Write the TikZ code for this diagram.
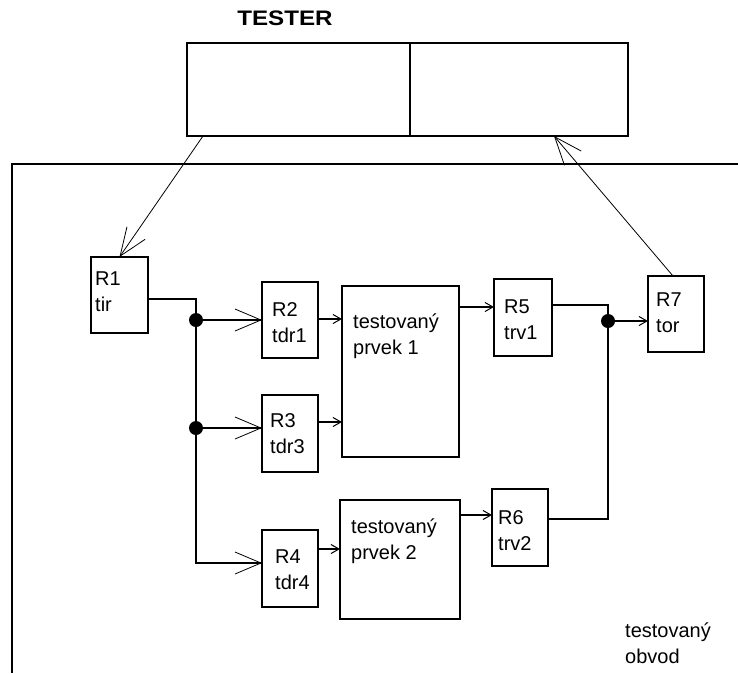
\documentclass[tikz,border=0pt]{standalone}
\usepackage{fontspec}
\setmainfont{Liberation Sans}
\usetikzlibrary{arrows.meta,calc}
\begin{document}
\begin{tikzpicture}[x=1pt,y=-1pt,
  box/.style={draw, line width=1.6pt, inner sep=0pt, outer sep=0pt, anchor=north west},
  lbl/.style={anchor=north west, inner sep=0pt, align=left, font=\fontsize{20}{26}\selectfont},
  wire/.style={line width=1.6pt},
  bigarr/.style={line width=1.6pt, -{Straight Barb[length=26pt,width=22pt,line width=0.8pt]}},
  thinarr/.style={line width=0.8pt, -{Straight Barb[length=28pt,width=22pt,line width=0.8pt]}},
  smallarr/.style={line width=1.6pt, -{Straight Barb[length=8pt,width=9pt,line width=1pt]}},
  dot/.style={circle, fill, inner sep=0pt, outer sep=0pt, minimum size=14pt}]

\useasboundingbox (0,0) rectangle (738,673);

% title
\node[font=\fontsize{21}{21}\bfseries\selectfont] (T) at (285,18) {\scalebox{1.15}[1]{TESTER}};

% tester box
\node[box, minimum width=223pt, minimum height=93pt] (TL) at (187,43) {};
\node[box, minimum width=218pt, minimum height=93pt] (TR) at (410,43) {};

% frame of tested circuit
\coordinate (fb) at (12,673);
\coordinate (fl) at (12,164);
\coordinate (fr) at (740,164);
\draw[wire] (fb) -- (fl) -- (fr);

% boxes
\node[box, minimum width=57pt, minimum height=76pt] (R1) at (91,257) {};
\node[box, minimum width=56pt, minimum height=76pt] (R2) at (262,282) {};
\node[box, minimum width=56pt, minimum height=77pt] (R3) at (262,395) {};
\node[box, minimum width=56pt, minimum height=77pt] (R4) at (262,530) {};
\node[box, minimum width=117pt, minimum height=171pt] (P1) at (342,286) {};
\node[box, minimum width=120pt, minimum height=119pt] (P2) at (340,500) {};
\node[box, minimum width=58pt, minimum height=77pt] (R5) at (494,279) {};
\node[box, minimum width=56pt, minimum height=77pt] (R6) at (492,489) {};
\node[box, minimum width=56pt, minimum height=76pt] (R7) at (648,276) {};

% labels
\node[lbl] (tR1) at ($(R1.north west)+(4,15)$) {R1\\tir};
\node[lbl] (tR2) at ($(R2.north west)+(10,20)$) {R2\\tdr1};
\node[lbl] (tR3) at ($(R3.north west)+(8,18)$) {R3\\tdr3};
\node[lbl] (tR4) at ($(R4.north west)+(13,20)$) {R4\\tdr4};
\node[lbl] (tP1) at ($(P1.north west)+(11,28)$) {testovaný\\prvek 1};
\node[lbl] (tP2) at ($(P2.north west)+(11,19)$) {testovaný\\prvek 2};
\node[lbl] (tR5) at ($(R5.north west)+(10,21)$) {R5\\trv1};
\node[lbl] (tR6) at ($(R6.north west)+(6,21)$) {R6\\trv2};
\node[lbl] (tR7) at ($(R7.north west)+(8,17)$) {R7\\tor};
\node[lbl] (tobv) at (625,623) {testovaný\\obvod};

% junctions
\node[dot] (J1) at (196,320) {};
\node[dot] (J2) at (196,428) {};
\node[dot] (J3) at (608,321) {};

% wiring
\draw[wire] ($(R1.north east)+(0,42)$) -| (J1.center);
\draw[wire] (J1.center) -- (J2.center);
\draw[bigarr] (J2.center) |- ($(R4.north west)+(0,33)$);
\draw[bigarr] (J1) -- (J1 -| R2.west);
\draw[bigarr] (J2) -- (J2 -| R3.west);

\draw[smallarr] ($(R2.north east)+(0,37)$) -- ($(P1.north west)+(0,33)$);
\draw[smallarr] ($(R3.north east)+(0,27)$) -- ($(P1.north west)+(0,136)$);
\draw[smallarr] ($(R4.north east)+(0,19)$) -- ($(P2.north west)+(0,49)$);
\draw[smallarr] ($(P1.north east)+(0,21)$) -- ($(R5.north west)+(0,28)$);
\draw[smallarr] ($(P2.north east)+(0,15)$) -- ($(R6.north west)+(0,26)$);

\draw[wire] ($(R5.north east)+(0,26)$) -| (J3.center);
\draw[wire] ($(R6.north east)+(0,30)$) -| (J3.center);
\draw[smallarr] (J3) -- (J3 -| R7.west);

% tester connections
\draw[thinarr] ($(TL.south west)+(16,0)$) -- (R1.north);
\draw[thinarr] ($(R7.north west)+(25,0)$) -- ($(TR.south west)+(144,0)$);
\end{tikzpicture}
\end{document}
